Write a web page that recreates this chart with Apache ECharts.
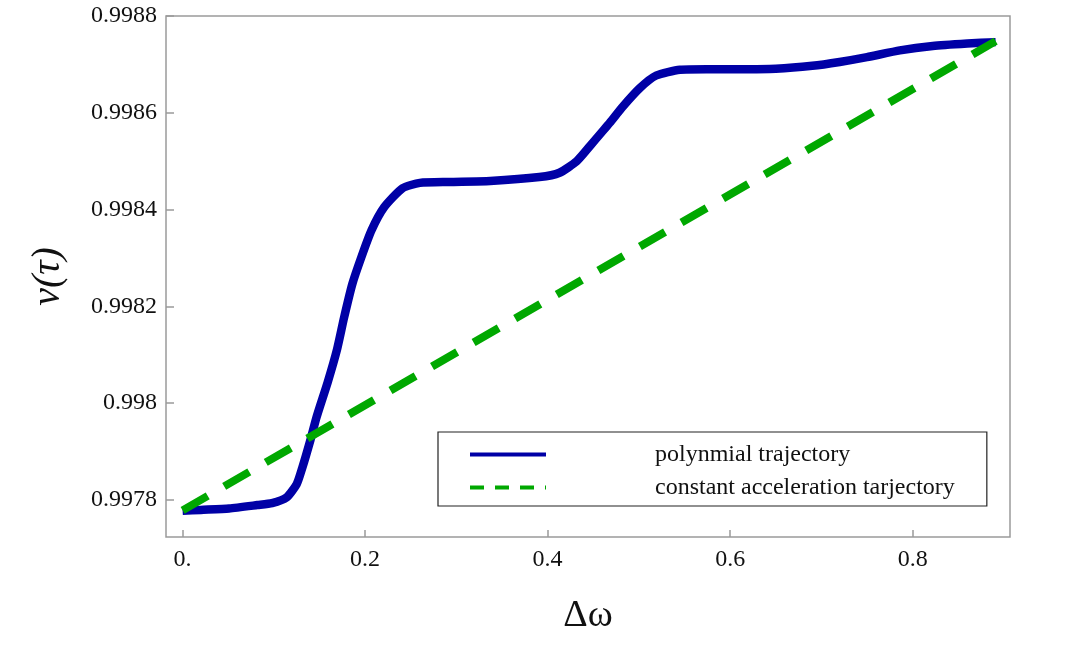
<!DOCTYPE html>
<html>
<head>
<meta charset="utf-8">
<script src="https://cdn.jsdelivr.net/npm/echarts@6/dist/echarts.min.js"></script>
<style>
  html, body { margin: 0; padding: 0; background: #fff; }
  #chart { width: 1069px; height: 669px; }
</style>
</head>
<body>
<div id="chart"></div>
<script>
var polyX = [0, 0.02, 0.051, 0.082, 0.098, 0.114, 0.125, 0.131, 0.140, 0.147, 0.159, 0.169, 0.177,
  0.186, 0.196, 0.207, 0.221, 0.241, 0.260, 0.292, 0.337, 0.391, 0.413, 0.432, 0.449, 0.468,
  0.482, 0.501, 0.519, 0.545, 0.574, 0.610, 0.650, 0.690, 0.720, 0.750, 0.786, 0.822, 0.860, 0.891];
var polyY = [0.997777, 0.997779, 0.997782, 0.997789, 0.997793, 0.997805, 0.997832, 0.997865,
  0.997923, 0.997972, 0.998043, 0.998109, 0.998177, 0.998246, 0.998302, 0.998357, 0.998405,
  0.998444, 0.998455, 0.998457, 0.998459, 0.998467, 0.998476, 0.998500, 0.998537, 0.998579,
  0.998612, 0.998651, 0.998677, 0.998689, 0.998690, 0.998690, 0.998691, 0.998697, 0.998705,
  0.998715, 0.998729, 0.998738, 0.998743, 0.998746];
var constX = [0, 0.891];
var constY = [0.997778, 0.998748];
var xTicks = [0, 0.2, 0.4, 0.6, 0.8];
var yTicks = [0.9978, 0.998, 0.9982, 0.9984, 0.9986, 0.9988];
var seriesNames = ['polynmial trajectory', 'constant acceleration tarjectory'];

function pairs(xs, ys) {
  return xs.map(function (x, i) { return [x, ys[i]]; });
}

var dom = document.getElementById('chart');
var chart = echarts.init(dom, null, { renderer: 'canvas' });
var labelFont = 'Liberation Serif';

var option = {
  animation: false,
  grid: {
    left: 166, top: 16, right: 59, bottom: 132,
    show: true, borderColor: '#9a9a9a', borderWidth: 1.5, backgroundColor: 'transparent'
  },
  legend: {
    orient: 'vertical',
    left: 438, top: 432,
    itemWidth: 76, itemHeight: 14, itemGap: 0,
    padding: [6, 32, 2, 30],
    borderColor: '#222', borderWidth: 1.2,
    backgroundColor: '#fff',
    textStyle: {
      fontFamily: labelFont, fontSize: 24, color: '#111',
      lineHeight: 33, padding: [0, 0, 0, 104]
    },
    data: [
      { name: seriesNames[0], itemStyle: { opacity: 0 }, lineStyle: { width: 4 } },
      { name: seriesNames[1], itemStyle: { opacity: 0 }, lineStyle: { width: 4, type: [14, 11] } }
    ]
  },
  xAxis: {
    type: 'value',
    min: -0.0182, max: 0.9067,
    name: 'Δω',
    nameLocation: 'middle',
    nameGap: 60,
    nameTextStyle: { fontFamily: labelFont, fontSize: 38, color: '#111' },
    axisLine: { show: false, onZero: false },
    splitLine: { show: false },
    axisTick: {
      show: true, inside: true, length: 7,
      customValues: xTicks,
      lineStyle: { color: '#9a9a9a', width: 1.5 }
    },
    axisLabel: {
      customValues: xTicks,
      margin: 11,
      fontFamily: labelFont, fontSize: 24, color: '#111',
      formatter: function (v) { return v === 0 ? '0.' : String(+v.toFixed(1)); }
    }
  },
  yAxis: {
    type: 'value',
    min: 0.997723, max: 0.9988,
    name: 'v(τ)',
    nameLocation: 'middle',
    nameGap: 98,
    nameTextStyle: { fontFamily: labelFont, fontSize: 40, fontStyle: 'italic', color: '#111' },
    axisLine: { show: false, onZero: false },
    splitLine: { show: false },
    axisTick: {
      show: true, inside: true, length: 8,
      customValues: yTicks,
      lineStyle: { color: '#9a9a9a', width: 1.5 }
    },
    axisLabel: {
      customValues: yTicks,
      margin: 9,
      fontFamily: labelFont, fontSize: 24, color: '#111',
      formatter: function (v) { return String(+v.toFixed(4)); }
    }
  },
  series: [
    {
      name: seriesNames[0],
      type: 'line',
      data: pairs(polyX, polyY),
      symbol: 'none',
      smooth: 0.2,
      lineStyle: { color: '#0000a6', width: 8.5, join: 'round' },
      itemStyle: { color: '#0000a6' },
      z: 2
    },
    {
      name: seriesNames[1],
      type: 'line',
      data: pairs(constX, constY),
      symbol: 'none',
      lineStyle: { color: '#00a800', width: 8, type: [29, 19], cap: 'butt' },
      itemStyle: { color: '#00a800' },
      z: 3
    }
  ]
};

chart.setOption(option);
window.addEventListener('resize', function () { chart.resize(); });
</script>
</body>
</html>
